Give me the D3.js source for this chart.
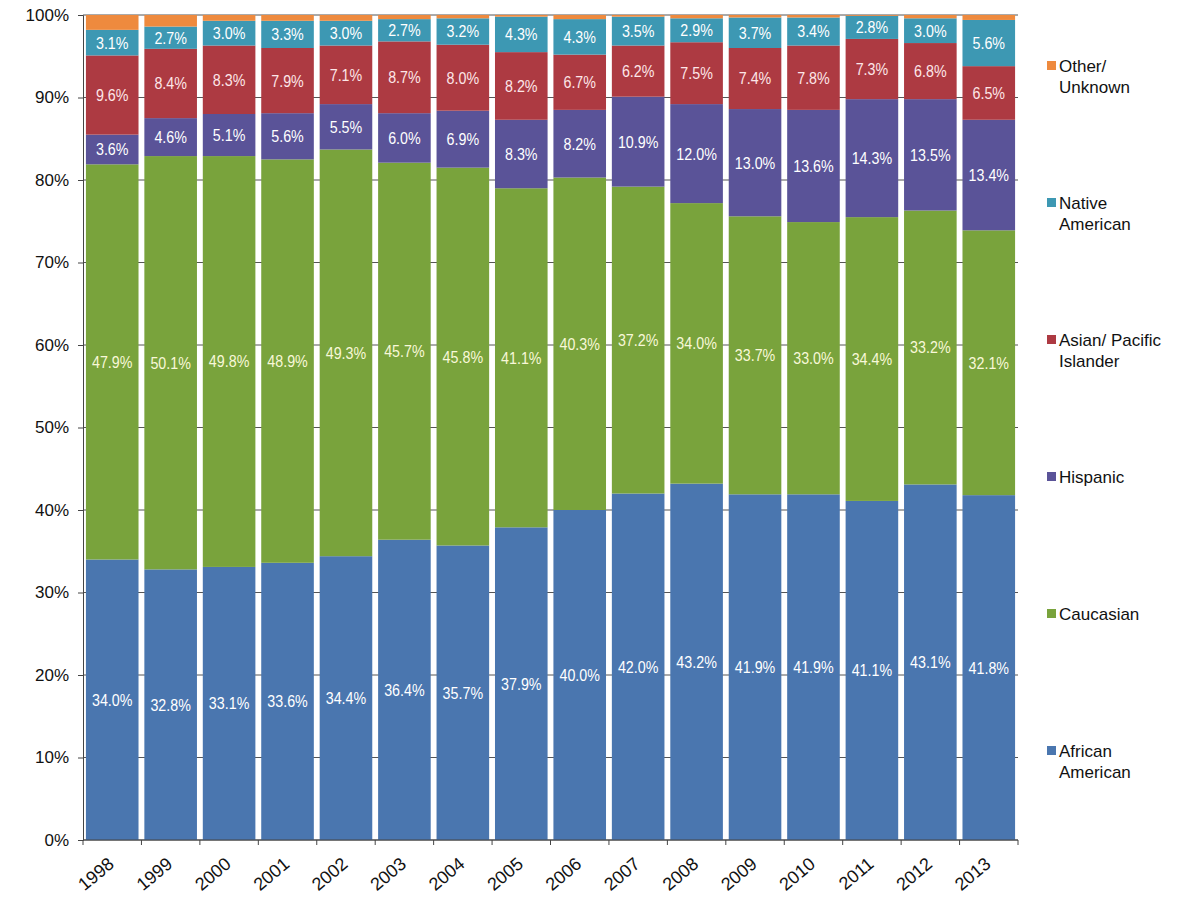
<!DOCTYPE html>
<html>
<head>
<meta charset="utf-8">
<script src="https://cdn.jsdelivr.net/npm/d3@7"></script>
<style>
  body { margin: 0; background: #fff; }
  text { font-family: "Liberation Sans", Arial, sans-serif; }
</style>
</head>
<body>
<div id="container"></div>
<script>
// years on the x axis
var years = ["1998","1999","2000","2001","2002","2003","2004","2005",
             "2006","2007","2008","2009","2010","2011","2012","2013"];

// percent values per group, bottom to top
var africanAmerican = [34.0,32.8,33.1,33.6,34.4,36.4,35.7,37.9,40.0,42.0,43.2,41.9,41.9,41.1,43.1,41.8];
var caucasian       = [47.9,50.1,49.8,48.9,49.3,45.7,45.8,41.1,40.3,37.2,34.0,33.7,33.0,34.4,33.2,32.1];
var hispanic        = [3.6,4.6,5.1,5.6,5.5,6.0,6.9,8.3,8.2,10.9,12.0,13.0,13.6,14.3,13.5,13.4];
var asianPacific    = [9.6,8.4,8.3,7.9,7.1,8.7,8.0,8.2,6.7,6.2,7.5,7.4,7.8,7.3,6.8,6.5];
var nativeAmerican  = [3.1,2.7,3.0,3.3,3.0,2.7,3.2,4.3,4.3,3.5,2.9,3.7,3.4,2.8,3.0,5.6];
var otherUnknown    = [1.8,1.4,0.7,0.7,0.7,0.5,0.4,0.2,0.5,0.2,0.4,0.3,0.3,0.1,0.4,0.6];

var yTicks = [0,10,20,30,40,50,60,70,80,90,100];

var series = [
    { key: "africanAmerican", name: ["African", "American"], values: africanAmerican, color: "#4a76af", label: "#ffffff" },
    { key: "caucasian", name: ["Caucasian"], values: caucasian, color: "#79a33c", label: "#f8f8d8" },
    { key: "hispanic", name: ["Hispanic"], values: hispanic, color: "#5a5398", label: "#ffffff" },
    { key: "asianPacific", name: ["Asian/ Pacific", "Islander"], values: asianPacific, color: "#ad3a42", label: "#fde6e8" },
    { key: "nativeAmerican", name: ["Native", "American"], values: nativeAmerican, color: "#3d98b3", label: "#ffffff" },
    { key: "otherUnknown", name: ["Other/", "Unknown"], values: otherUnknown, color: "#ee8a3e", label: "#ffffff" }
];

var rows = years.map(function (y, i) {
    var r = { year: y };
    series.forEach(function (s) { r[s.key] = s.values[i]; });
    return r;
});

var W = 1196, H = 897;
var margin = { top: 15, right: 178, bottom: 57, left: 83 };

var svg = d3.select("#container").append("svg")
    .attr("width", W)
    .attr("height", H);

var x = d3.scaleBand()
    .domain(years)
    .range([margin.left, W - margin.right])
    .paddingInner(0.1)
    .paddingOuter(0.05);

var y = d3.scaleLinear()
    .domain([0, 100])
    .range([H - margin.bottom, margin.top]);

// gridlines behind the bars
svg.append("g")
    .selectAll("line")
    .data(yTicks)
    .join("line")
    .attr("x1", margin.left)
    .attr("x2", W - margin.right)
    .attr("y1", d => y(d))
    .attr("y2", d => y(d))
    .attr("stroke", "#555")
    .attr("stroke-width", 1);

var stack = d3.stack().keys(series.map(s => s.key));
var layers = stack(rows);

var layer = svg.append("g")
    .selectAll("g")
    .data(layers)
    .join("g")
    .attr("fill", (d, i) => series[i].color);

layer.selectAll("rect")
    .data(d => d)
    .join("rect")
    .attr("x", d => x(d.data.year))
    .attr("width", x.bandwidth())
    .attr("y", d => y(d[1]))
    .attr("height", d => y(d[0]) - y(d[1]));

// value labels (narrow look: squeeze Liberation Sans horizontally)
layers.forEach(function (l, i) {
    if (series[i].key === "otherUnknown") return;
    svg.append("g")
        .selectAll("text")
        .data(l)
        .join("text")
        .attr("transform", d => `translate(${x(d.data.year) + x.bandwidth() / 2},${y((d[0] + d[1]) / 2)}) scale(0.84,1)`)
        .attr("dy", "0.35em")
        .attr("text-anchor", "middle")
        .attr("font-size", 17)
        .attr("fill", series[i].label)
        .text(d => d3.format(".1f")(d[1] - d[0]) + "%");
});

// y axis
var yAxis = svg.append("g")
    .attr("transform", `translate(${margin.left},0)`)
    .call(d3.axisLeft(y).tickValues(yTicks).tickFormat(d => d + "%").tickSize(5).tickPadding(9));
yAxis.select(".domain").attr("stroke", "#444");
yAxis.selectAll("line").attr("stroke", "#444");
yAxis.selectAll("text").attr("font-size", 17).attr("fill", "#111")
    .style("font-family", "'Liberation Sans', Arial, sans-serif");

// x axis with ticks on band edges
var xg = svg.append("g")
    .attr("transform", `translate(0,${H - margin.bottom})`);
xg.append("line")
    .attr("x1", margin.left)
    .attr("x2", W - margin.right)
    .attr("stroke", "#444");
var step = x.step();
var edges = d3.range(years.length + 1).map(i => margin.left + i * step);
xg.selectAll("line.tick")
    .data(edges)
    .join("line")
    .attr("class", "tick")
    .attr("x1", d => d)
    .attr("x2", d => d)
    .attr("y1", 0)
    .attr("y2", 5)
    .attr("stroke", "#444");
xg.selectAll("text")
    .data(years)
    .join("text")
    .attr("transform", d => `translate(${x(d) + x.bandwidth() / 2 - 1},${21}) rotate(-40)`)
    .attr("text-anchor", "end")
    .attr("dy", "0.35em")
    .attr("font-size", 18)
    .attr("fill", "#111")
    .text(d => d);

// legend, top to bottom reversed order
var legendItems = series.slice().reverse();
var legend = svg.append("g")
    .attr("transform", "translate(1047,0)");
var item = legend.selectAll("g")
    .data(legendItems)
    .join("g")
    .attr("transform", (d, i) => `translate(0,${66 + i * 137})`);
item.append("rect")
    .attr("x", 0)
    .attr("y", -5)
    .attr("width", 9)
    .attr("height", 9)
    .attr("fill", d => d.color);
item.append("text")
    .attr("font-size", 17)
    .attr("fill", "#111")
    .selectAll("tspan")
    .data(d => d.name)
    .join("tspan")
    .attr("x", 12)
    .attr("y", (d, i) => i * 21)
    .attr("dy", "0.35em")
    .text(d => d);
</script>
</body>
</html>
